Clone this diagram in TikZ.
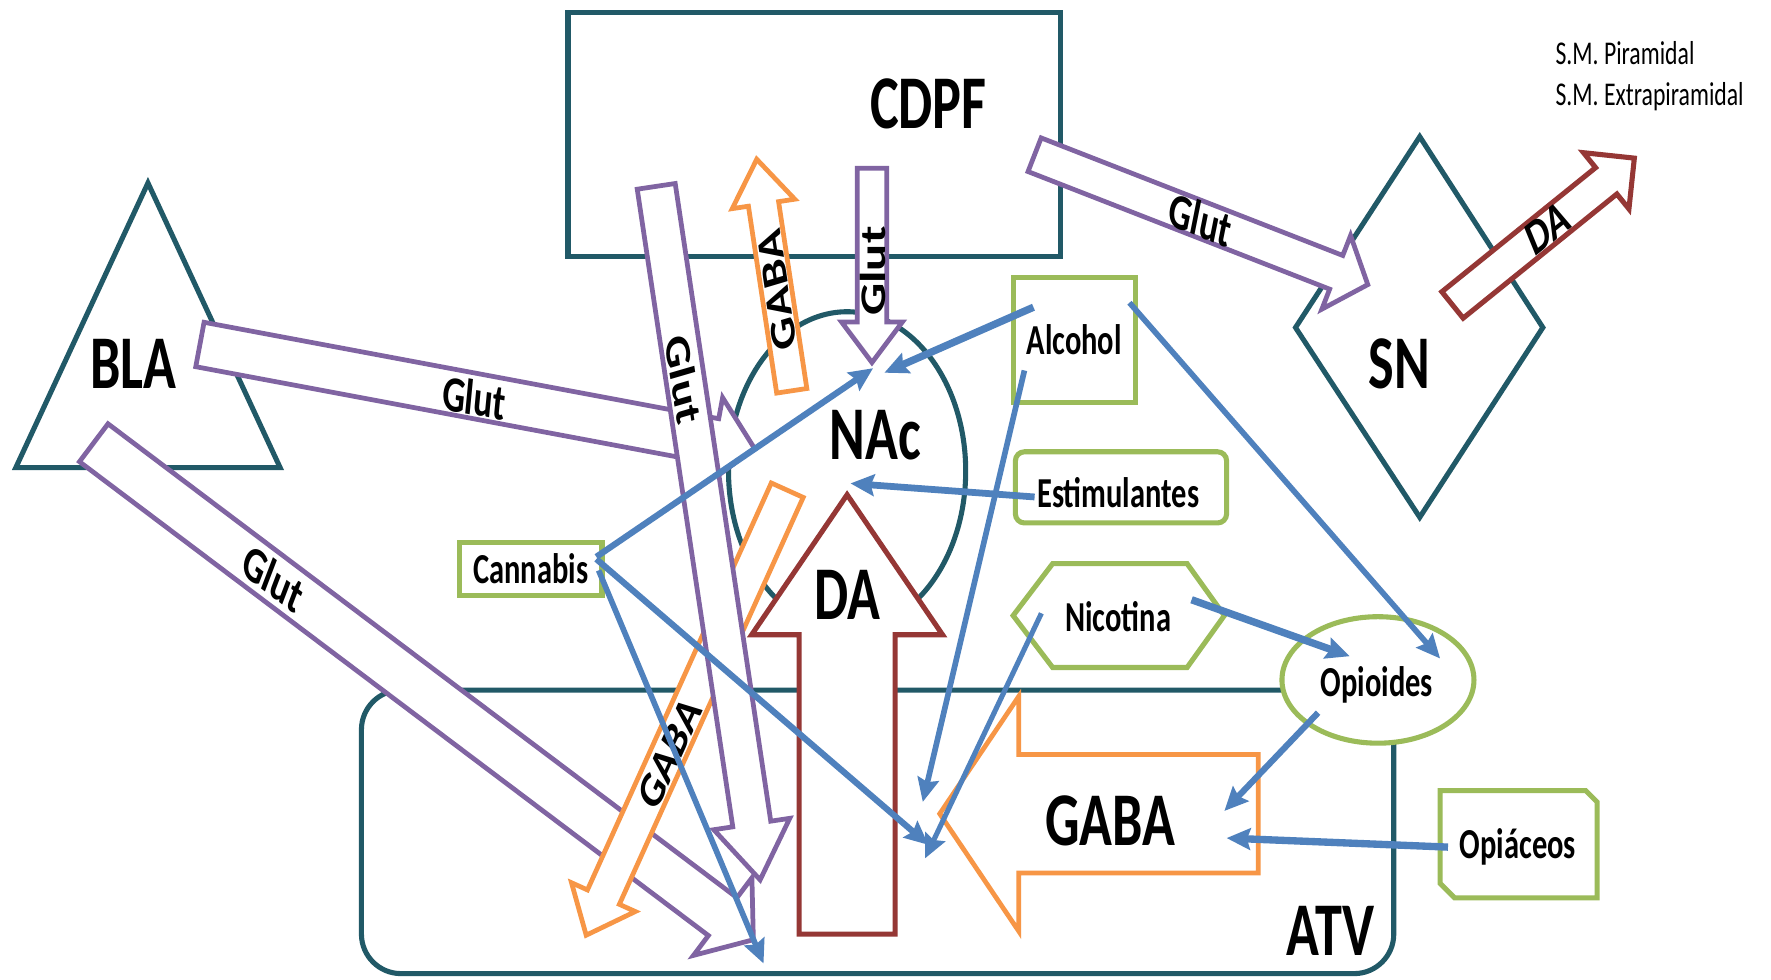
\documentclass[tikz,border=0pt]{standalone}
\usepackage{fontspec}
\setmainfont{Carlito}
\usetikzlibrary{calc,arrows.meta,shapes.geometric}
\definecolor{tealc}{RGB}{33,89,103}
\definecolor{purp}{RGB}{128,100,162}
\definecolor{orng}{RGB}{247,150,70}
\definecolor{dred}{RGB}{149,55,53}
\definecolor{grn}{RGB}{155,187,89}
\definecolor{blu}{RGB}{79,129,189}
\newcommand\tx[2][0]{\scalebox{1}[1.4]{\rotatebox{#1}{#2}}}
% block arrow: #1 style, #2 tail coord, #3 tip coord, #4 shaft half width, #5 head half width, #6 head length
\newcommand\barrow[6]{%
  \coordinate (#2#3m) at ($(#3)!#6!(#2)$);
  \draw[#1] ($(#2)!#4!90:(#3)$) -- ($(#2#3m)!#4!90:(#3)$) -- ($(#2#3m)!#5!90:(#3)$) -- (#3)
    -- ($(#2#3m)!#5!-90:(#3)$) -- ($(#2#3m)!#4!-90:(#3)$) -- ($(#2)!#4!-90:(#3)$) -- cycle;
}
\begin{document}
\begin{tikzpicture}[x=1pt,y=-1pt,
  region/.style={draw=tealc, line width=4.5pt, fill=white},
  drugline/.style={draw=grn, line width=4.5pt, fill=white},
  drug/.style={drugline, inner sep=0pt, font=\bfseries\fontsize{27}{29}\selectfont},
  dtext/.style={inner sep=0pt, font=\bfseries\fontsize{27}{29}\selectfont},
  big/.style={inner sep=0pt, font=\bfseries\fontsize{48}{50}\selectfont},
  lab/.style={inner sep=0pt, font=\bfseries\fontsize{32}{34}\selectfont},
  small/.style={inner sep=0pt, anchor=west, font=\fontsize{21}{23}\selectfont},
  purpA/.style={draw=purp, line width=4.2pt, fill=white},
  orngA/.style={draw=orng, line width=4.2pt, fill=white},
  redA/.style={draw=dred, line width=4.5pt, fill=white},
  link/.style={draw=blu, line width=5.5pt, -{Stealth[length=21pt,width=19pt,inset=3pt]}},
]
\useasboundingbox (0,0) rectangle (1568,867);

% ---------- regions ----------
\draw[region, rounded corners=35pt] (320,611) rectangle (1234,862);
\draw[region, line width=5pt] (503,11) rectangle (939,227);
\draw[region, line join=miter] (131,162) -- (248,414) -- (14,414) -- cycle;
\draw[region] (1257,121) -- (1366,290) -- (1257,458) -- (1147,290) -- cycle;
\draw[region] (750,417) ellipse [x radius=105pt, y radius=141pt];

% ---------- drugs ----------
\node[drug, minimum width=108pt, minimum height=110pt] (alc) at (951,301) {\tx{Alcohol}};
\node[drug, rounded corners=8pt, minimum width=187pt, minimum height=63pt] (est) at (992.5,431.5) {};
\node[dtext] (estt) at (990,436) {\tx{Estimulantes}};
\node[drug, minimum width=126pt, minimum height=47pt] (can) at (470,503.5) {\tx{Cannabis}};
\draw[drugline] (897,545) -- (932,499) -- (1051,499) -- (1084,545) -- (1051,591) -- (932,591) -- cycle;
\node[dtext] (nic) at (990,546) {\tx{Nicotina}};
\node[drug, ellipse, minimum width=170pt, minimum height=112pt] (opi) at (1220,602) {};
\node[dtext] (opit) at (1219,606) {\tx{Opioides}};
\draw[drugline] (1275,700) -- (1404,700) -- (1414,710) -- (1414,795) -- (1288,795) -- (1275,782) -- cycle;
\node[dtext] (opc) at (1344,750) {\tx{Opiáceos}};

% ---------- block arrows ----------
\coordinate (gbT) at (1114,720.5); \coordinate (gbH) at (832,720.5);
\barrow{orngA}{gbT}{gbH}{52.5pt}{104pt}{70pt}
\coordinate (dbT) at (750,827); \coordinate (dbH) at (750,438);
\barrow{redA}{dbT}{dbH}{42.5pt}{84.5pt}{124pt}
\coordinate (gl2T) at (83,392); \coordinate (gl2H) at (667,832);
\barrow{purpA}{gl2T}{gl2H}{21pt}{43pt}{34pt}
\coordinate (glbT) at (177,305); \coordinate (glbH) at (668,397);
\barrow{purpA}{glbT}{glbH}{20pt}{39pt}{36pt}
\coordinate (gdT) at (697,434); \coordinate (gdH) at (519,828);
\barrow{orngA}{gdT}{gdH}{15.5pt}{31pt}{37pt}
\coordinate (gloT) at (581,165); \coordinate (gloH) at (673,779);
\barrow{purpA}{gloT}{gloH}{17pt}{34pt}{50pt}
\coordinate (guT) at (701,346); \coordinate (guH) at (670,141);
\barrow{orngA}{guT}{guH}{13.5pt}{28pt}{40pt}
\coordinate (gdnT) at (772,149); \coordinate (gdnH) at (772,321);
\barrow{purpA}{gdnT}{gdnH}{13pt}{27pt}{36pt}
\coordinate (gsT) at (916,137); \coordinate (gsH) at (1211,252);
\barrow{purpA}{gsT}{gsH}{16pt}{35pt}{30pt}
\coordinate (dsT) at (1286,270); \coordinate (dsH) at (1447,140);
\barrow{redA}{dsT}{dsH}{15pt}{32pt}{32pt}

% ---------- arrow labels ----------
\node[lab] (l1) at (420,352) {\tx[-7.6]{Glut}};
\node[lab] (l2) at (242,512) {\tx[-28.2]{Glut}};
\node[lab] (l3) at (1063,194) {\tx[-15.6]{Glut}};
\node[lab] (l4) at (1370,202) {\tx[30]{DA}};
\node[lab] (l5) at (773,240) {\tx[90]{Glut}};
\node[lab] (l6) at (688,257) {\tx[102]{GABA}};
\node[lab] (l7) at (605,336) {\tx[-78.2]{Glut}};
\node[lab] (l8) at (593,667) {\tx[57.7]{GABA}};

% ---------- big labels ----------
\node[big] (cdpf) at (822,92) {\tx{CDPF}};
\node[big] (bla) at (118,322) {\tx{BLA}};
\node[big] (sn) at (1239,322) {\tx{SN}};
\node[big] (nac) at (775,385) {\tx{NAc}};
\node[big] (atv) at (1178,824) {\tx{ATV}};
\node[big] (da) at (750,527) {\tx{DA}};
\node[big] (gaba) at (983,727) {\tx{GABA}};
\node[small] (smp) at (1377,47) {\tx{S.M. Piramidal}};
\node[small] (sme) at (1377,86) {\tx{S.M. Extrapiramidal}};

% ---------- blue connectors ----------
\coordinate (a1) at (915,272);  \coordinate (a1e) at (783,330);
\coordinate (a2) at (907,328);  \coordinate (a2e) at (817,710);
\coordinate (a3) at (1000,268); \coordinate (a3e) at (1275,583);
\coordinate (e1) at (916,440);  \coordinate (e1e) at (753,428);
\coordinate (c1) at (528,493);  \coordinate (c1e) at (773,326);
\coordinate (c2) at (530,505);  \coordinate (c2e) at (676,853);
\coordinate (c3) at (528,495);  \coordinate (c3e) at (822,748);
\coordinate (n1) at (922,543);  \coordinate (n1e) at (819,760);
\coordinate (n2) at (1055,531); \coordinate (n2e) at (1195,581);
\coordinate (o1) at (1167,631); \coordinate (o1e) at (1084,718);
\coordinate (p1) at (1282,750); \coordinate (p1e) at (1086,742);
\draw[link, line width=6.5pt] (a1) -- (a1e);
\draw[link, line width=5pt] (a2) -- (a2e);
\draw[link, line width=5pt] (a3) -- (a3e);
\draw[link, line width=6pt] (e1) -- (e1e);
\draw[link] (c1) -- (c1e);
\draw[link, line width=5pt] (c2) -- (c2e);
\draw[link] (c3) -- (c3e);
\draw[link, line width=4.5pt] (n1) -- (n1e);
\draw[link, line width=6.5pt] (n2) -- (n2e);
\draw[link] (o1) -- (o1e);
\draw[link, line width=6.5pt] (p1) -- (p1e);
\end{tikzpicture}
\end{document}
